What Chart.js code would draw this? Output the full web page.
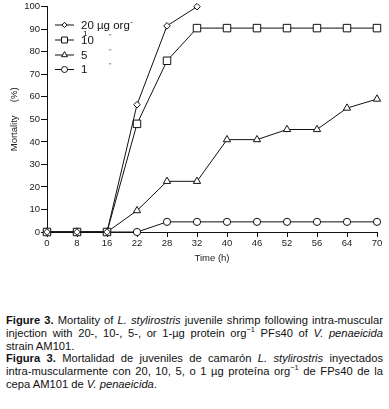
<!DOCTYPE html>
<html>
<head>
<meta charset="utf-8">
<script src="https://cdn.jsdelivr.net/npm/chart.js@4/dist/chart.umd.min.js"></script>
<style>
  body { margin: 0; background: #fff; width: 389px; height: 409px; overflow: hidden; font-family: "Liberation Sans", Arial, sans-serif; }
  #wrap { position: relative; width: 389px; height: 268px; }
  .cap { margin: 46px 6px 0 6px; font-size: 11.2px; line-height: 12.8px; text-align: justify; color: #111; }
  .cap p { margin: 0; }
  .cap sup { font-size: 7.5px; line-height: 0; }
  .nw { white-space: nowrap; }
</style>
</head>
<body>
<div id="wrap"><canvas id="mortalityChart" width="389" height="268"></canvas></div>
<div class="cap">
  <p><b>Figure 3.</b> Mortality of <i>L. stylirostris</i> juvenile shrimp following intra-muscular injection with 20-, 10-, 5-, or 1-µg protein org<sup>−1</sup> PFs40 of <i>V. penaeicida</i> strain AM101.</p>
  <p><b>Figura 3.</b> Mortalidad de juveniles de camarón <i>L. stylirostris</i> inyectados <span class="nw">intra-muscularmente</span> con 20, 10, 5, o 1 µg proteína org<sup>−1</sup> de FPs40 de la cepa AM101 de <i>V. penaeicida</i>.</p>
</div>
<script>
// time points (h), evenly spaced on the axis
const timeLabels = ['0', '8', '16', '22', '28', '32', '40', '46', '52', '56', '64', '70'];

// mortality (%) per dose
const dose20 = [0, 0, 0, 56.5, 91.5, 100, null, null, null, null, null, null];
const dose10 = [0, 0, 0, 48, 76, 90.5, 90.5, 90.5, 90.5, 90.5, 90.5, 90.5];
const dose5 = [0, 0, 0, 9.5, 22.5, 22.5, 41, 41, 45.5, 45.5, 55, 59];
const dose1 = [0, 0, 0, 0, 4.5, 4.5, 4.5, 4.5, 4.5, 4.5, 4.5, 4.5];

const seriesNames = ['20 µg org', '10', '5', '1'];

const FONT = '"Liberation Sans", Arial, sans-serif';

function makeSet(label, data, style, radius) {
    return {
        label: label,
        data: data,
        borderColor: '#111',
        borderWidth: 1,
        backgroundColor: '#fff',
        pointStyle: style,
        pointRadius: radius,
        pointHoverRadius: radius,
        pointBackgroundColor: '#fff',
        pointBorderColor: '#111',
        pointBorderWidth: 1,
        spanGaps: false,
        clip: false,
        tension: 0
    };
}

// legend drawn inside the plot, top left (smaller markers than the plot)
const legendRadius = [2.6, 4.2, 3.4, 3];
const insideLegend = {
    id: 'insideLegend',
    afterDraw(chart) {
        const ctx = chart.ctx;
        const rows = [25, 40, 55, 69.5];
        ctx.save();
        chart.data.datasets.forEach((ds, i) => {
            const y = rows[i];
            ctx.strokeStyle = '#111';
            ctx.lineWidth = 1;
            ctx.beginPath();
            ctx.moveTo(55, y);
            ctx.lineTo(74, y);
            ctx.stroke();
            ctx.fillStyle = '#fff';
            Chart.helpers.drawPoint(ctx, { pointStyle: ds.pointStyle, radius: legendRadius[i], borderWidth: 1, rotation: 0 }, 64.5, y);
            ctx.fillStyle = '#111';
            ctx.font = '11.5px ' + FONT;
            ctx.textBaseline = 'middle';
            ctx.textAlign = 'left';
            ctx.fillText(ds.label, 81, y + 0.5);
            if (i === 0) {
                const w = ctx.measureText(ds.label).width;
                ctx.font = '8px ' + FONT;
                ctx.fillText('-', 81 + w + 0.5, y - 3);
                ctx.fillText('1', 83, y + 9);
            } else {
                ctx.fillStyle = '#555';
                ctx.font = '7px ' + FONT;
                ctx.fillText('"', 109, y - 3);
            }
        });
        ctx.restore();
    }
};

document.addEventListener('DOMContentLoaded', function() {
    const ctx = document.getElementById('mortalityChart').getContext('2d');
    new Chart(ctx, {
        type: 'line',
        data: {
            labels: timeLabels,
            datasets: [
                makeSet(seriesNames[0], dose20, 'rectRot', 3.3),
                makeSet(seriesNames[1], dose10, 'rect', 5.3),
                makeSet(seriesNames[2], dose5, 'triangle', 4.2),
                makeSet(seriesNames[3], dose1, 'circle', 3.6)
            ]
        },
        options: {
            responsive: false,
            animation: false,
            events: [],
            layout: { padding: { top: 6, right: 12, left: 0, bottom: 0 } },
            plugins: {
                legend: { display: false },
                tooltip: { enabled: false }
            },
            scales: {
                x: {
                    type: 'category',
                    offset: false,
                    border: { color: '#111', width: 1 },
                    grid: { drawOnChartArea: false, tickLength: 5, color: '#111' },
                    ticks: { color: '#222', font: { family: FONT, size: 9.5 }, padding: 1, maxRotation: 0, autoSkip: false },
                    title: { display: true, text: 'Time (h)', color: '#222', font: { family: FONT, size: 9.5 }, padding: { top: 2, bottom: 4 } },
                    afterFit(scale) { scale.height = 36; }
                },
                y: {
                    min: 0,
                    max: 100,
                    border: { color: '#111', width: 1 },
                    grid: { drawOnChartArea: false, tickLength: 6, color: '#111' },
                    ticks: { stepSize: 10, color: '#222', font: { family: FONT, size: 9.5 }, padding: 1 },
                    title: { display: true, text: 'Mortality     (%)', color: '#222', font: { family: FONT, size: 9.5 }, padding: { top: 9, bottom: 0 } },
                    afterFit(scale) { scale.width = 47; }
                }
            }
        },
        plugins: [insideLegend]
    });
});
</script>
</body>
</html>
